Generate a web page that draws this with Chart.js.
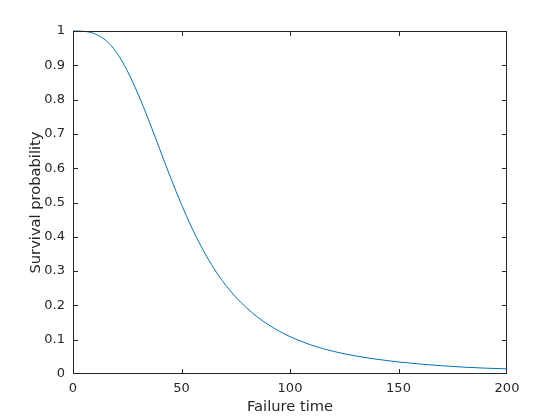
<!DOCTYPE html>
<html>
<head>
<meta charset="utf-8">
<script src="https://cdn.jsdelivr.net/npm/chart.js@4.4.0/dist/chart.umd.min.js"></script>
<style>
html,body{margin:0;padding:0;background:#fff;}
#wrap{width:560px;height:420px;position:relative;}
</style>
</head>
<body>
<div id="wrap"><canvas id="c" width="560" height="420"></canvas></div>
<script>
const failureTime = [0, 5, 10, 15, 20, 25, 30, 35, 40, 45, 50, 55, 60, 65, 70, 75, 80, 85, 90, 95, 100, 110, 120, 130, 140, 150, 160, 170, 180, 190, 200];
const survival = [1.000, 0.999, 0.992, 0.973, 0.938, 0.884, 0.816, 0.738, 0.655, 0.572, 0.494, 0.423, 0.361, 0.307, 0.262, 0.224, 0.193, 0.166, 0.144, 0.125, 0.109, 0.084, 0.066, 0.053, 0.043, 0.035, 0.029, 0.024, 0.020, 0.017, 0.015];
const xTicks = [0, 50, 100, 150, 200];
const yTicks = [0, 0.1, 0.2, 0.3, 0.4, 0.5, 0.6, 0.7, 0.8, 0.9, 1];
const xLabel = 'Failure time';
const yLabel = 'Survival probability';

const axisColor = '#262626';
const boxPlugin = {
  id: 'box',
  afterDraw(chart) {
    const {ctx, chartArea: a, scales} = chart;
    ctx.save();
    ctx.strokeStyle = axisColor;
    ctx.lineWidth = 1;
    const L = Math.round(a.left) + 0.5, R = Math.round(a.right) - 0.5;
    const T = Math.round(a.top) + 0.5, B = Math.round(a.bottom) - 0.5;
    ctx.strokeRect(L, T, R - L, B - T);
    const tl = 4.5;
    const clamp = (v, lo, hi) => Math.min(hi, Math.max(lo, v));
    ctx.beginPath();
    xTicks.forEach(v => {
      const px = clamp(Math.round(scales.x.getPixelForValue(v)) + 0.5, L, R);
      ctx.moveTo(px, B); ctx.lineTo(px, B - tl);
      ctx.moveTo(px, T); ctx.lineTo(px, T + tl);
    });
    yTicks.forEach(v => {
      const py = clamp(Math.round(scales.y.getPixelForValue(v)) + 0.5, T, B);
      ctx.moveTo(L, py); ctx.lineTo(L + tl, py);
      ctx.moveTo(R, py); ctx.lineTo(R - tl, py);
    });
    ctx.stroke();
    ctx.restore();
  }
};

new Chart(document.getElementById('c'), {
  type: 'line',
  data: {
    datasets: [{
      data: failureTime.map((t, i) => ({x: t, y: survival[i]})),
      borderColor: '#0072BD',
      borderWidth: 1,
      pointRadius: 0,
      fill: false,
      clip: 2,
      cubicInterpolationMode: 'monotone'
    }]
  },
  options: {
    responsive: false,
    animation: false,
    devicePixelRatio: 1,
    layout: {padding: {left: 0, right: 53, top: 31, bottom: 0}},
    plugins: {legend: {display: false}, tooltip: {enabled: false}},
    scales: {
      x: {
        type: 'linear', min: 0, max: 200,
        afterBuildTicks: s => { s.ticks = xTicks.map(v => ({value: v})); },
        afterFit: s => { s.height = 46; },
        grid: {display: false, drawTicks: false},
        border: {display: false},
        ticks: {color: axisColor, padding: 7, maxRotation: 0,
                callback: v => String(v),
                font: {family: 'DejaVu Sans', size: 13}},
        title: {display: true, text: xLabel, color: axisColor, padding: {top: 0, bottom: 4},
                font: {family: 'DejaVu Sans', size: 14.67}}
      },
      y: {
        type: 'linear', min: 0, max: 1,
        afterBuildTicks: s => { s.ticks = yTicks.map(v => ({value: v})); },
        afterFit: s => { s.width = 73; },
        grid: {display: false, drawTicks: false},
        border: {display: false},
        ticks: {color: axisColor, padding: 8,
                callback: v => String(v),
                font: {family: 'DejaVu Sans', size: 13}},
        title: {display: true, text: yLabel, color: axisColor, padding: {top: 27, bottom: 0},
                font: {family: 'DejaVu Sans', size: 14.67}}
      }
    }
  },
  plugins: [boxPlugin]
});
</script>
</body>
</html>
